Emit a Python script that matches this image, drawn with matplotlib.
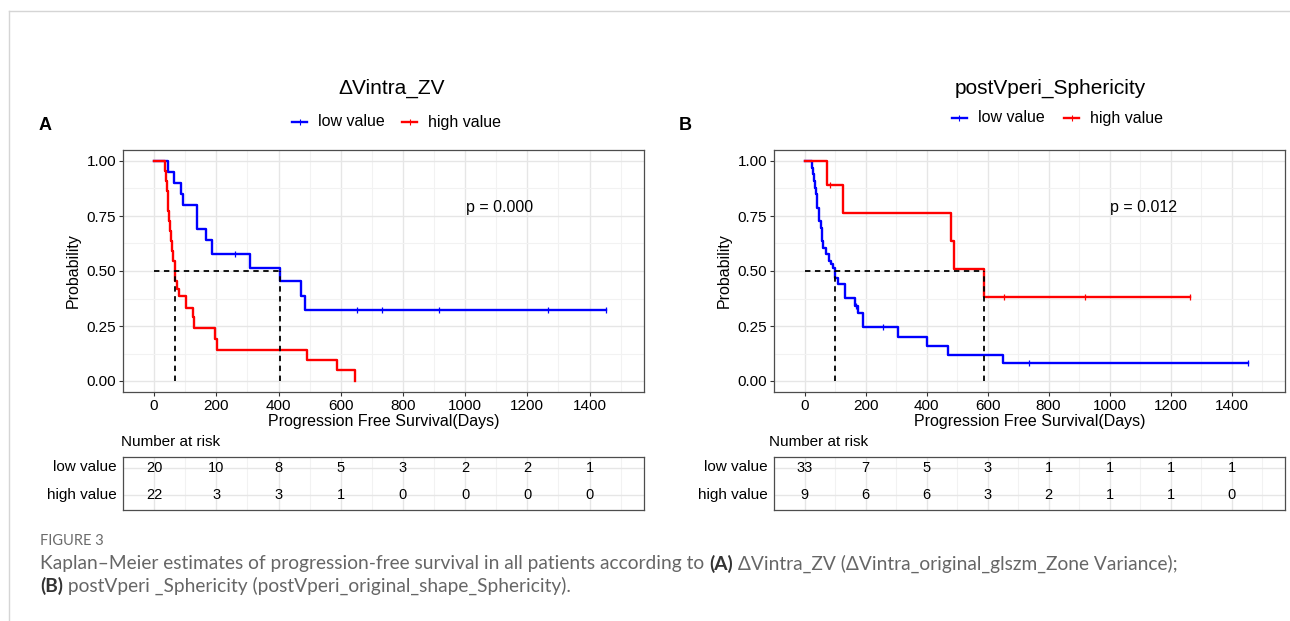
import numpy as np
import matplotlib.pyplot as plt
from matplotlib.lines import Line2D

plt.rcParams['font.family'] = ['Liberation Sans', 'DejaVu Sans']

W, H = 1290, 621

# ---- panel A: ΔVintra_ZV ----
a_low_t = [0, 44, 65, 86, 94, 137, 168, 186, 309, 404, 473, 485, 1454]
a_low_s = [1.0, 0.95, 0.90, 0.85, 0.80, 0.69, 0.64, 0.579, 0.514, 0.454, 0.386, 0.323, 0.323]
a_low_cens = [260, 651, 733, 917, 1267, 1454]
a_high_t = [0, 34, 38, 43, 46, 49, 52, 55, 58, 61, 66, 68, 74, 79, 103, 124, 129, 197, 202, 491, 587, 647]
a_high_s = [1.0, 0.955, 0.909, 0.864, 0.773, 0.727, 0.682, 0.636, 0.591, 0.545, 0.50, 0.455, 0.42,
            0.386, 0.334, 0.292, 0.242, 0.191, 0.143, 0.095, 0.048, 0.0]
a_high_cens = []
a_medians = [66, 404]
a_pval = "p = 0.000"
a_risk_low = [20, 10, 8, 5, 3, 2, 2, 1]
a_risk_high = [22, 3, 3, 1, 0, 0, 0, 0]

# ---- panel B: postVperi_Sphericity ----
b_low_t = [0, 25, 28, 31, 34, 37, 40, 42, 46, 49, 53, 56, 58, 61, 70, 79, 86, 92, 100, 111, 133,
           165, 176, 192, 307, 402, 470, 650, 1454]
b_low_s = [1.0, 0.970, 0.939, 0.909, 0.879, 0.848, 0.818, 0.788, 0.758, 0.727, 0.697, 0.667, 0.636,
           0.606, 0.576, 0.545, 0.530, 0.515, 0.470, 0.440, 0.376, 0.341, 0.311, 0.244, 0.200,
           0.161, 0.120, 0.081, 0.081]
b_low_cens = [168, 257, 737, 1454]
b_high_t = [0, 73, 127, 481, 491, 589, 1265]
b_high_s = [1.0, 0.889, 0.762, 0.635, 0.508, 0.381, 0.381]
b_high_cens = [84, 654, 920, 1265]
b_medians = [100, 589]
b_pval = "p = 0.012"
b_risk_low = [33, 7, 5, 3, 1, 1, 1, 1]
b_risk_high = [9, 6, 6, 3, 2, 1, 1, 0]

risk_times = [0, 200, 400, 600, 800, 1000, 1200, 1400]
x_ticks = [0, 200, 400, 600, 800, 1000, 1200, 1400]
y_ticks = [0.0, 0.25, 0.5, 0.75, 1.0]
y_ticklabels = ['0.00', '0.25', '0.50', '0.75', '1.00']

BLUE = '#0000FF'
RED = '#FF0000'
XLIM = (-75, 1575)


def box(l, t, r, b):
    return [l / W, 1 - b / H, (r - l) / W, (b - t) / H]


def step_at(ts, ss, x):
    i = np.searchsorted(ts, x, side='right') - 1
    return ss[i]


def style_axes(ax):
    for sp in ax.spines.values():
        sp.set_color('#4d4d4d')
        sp.set_linewidth(0.9)
    ax.set_facecolor('white')
    ax.grid(True, which='major', color='#e6e6e6', linewidth=1.0)
    ax.grid(True, which='minor', color='#f2f2f2', linewidth=0.8)
    ax.set_axisbelow(True)


def km_panel(fig, rect, curves, medians, pval):
    ax = fig.add_axes(rect)
    style_axes(ax)
    for ts, ss, cens, col in curves:
        ax.step(ts, ss, where='post', color=col, linewidth=1.7, zorder=3)
        cy = [step_at(ts, ss, c) for c in cens]
        ax.plot(cens, cy, linestyle='none', marker='|', markersize=5, markeredgewidth=0.9,
                color=col, zorder=4)
    ax.plot([0, max(medians)], [0.5, 0.5], color='black', linestyle=(0, (3, 2.5)),
            linewidth=1.3, zorder=5)
    for m in medians:
        ax.plot([m, m], [0, 0.5], color='black', linestyle=(0, (3, 2.5)), linewidth=1.3, zorder=5)
    ax.text(1110, 0.787, pval, fontsize=11.5, ha='center', va='center', color='black')
    ax.set_xlim(*XLIM)
    ax.set_ylim(-0.05, 1.05)
    ax.set_xticks(x_ticks)
    ax.set_xticks(np.arange(-100, 1600, 100), minor=True)
    ax.set_yticks(y_ticks)
    ax.set_yticklabels(y_ticklabels)
    ax.set_yticks([0.125, 0.375, 0.625, 0.875], minor=True)
    ax.tick_params(which='major', length=3, width=0.8, color='#333333', labelsize=11,
                   labelcolor='black', pad=2)
    ax.tick_params(which='minor', length=0)
    ax.set_xlabel('Progression Free Survival(Days)', fontsize=11.5, labelpad=1)
    ax.set_ylabel('Probability', fontsize=11.5, labelpad=4)
    return ax


def risk_table(fig, rect, low, high, label_x_px, title_x_px, title_y_px):
    ax = fig.add_axes(rect)
    style_axes(ax)
    ax.set_xlim(*XLIM)
    ax.set_ylim(0.45, 2.4)
    ax.set_xticks(x_ticks)
    ax.set_xticks(np.arange(-100, 1600, 100), minor=True)
    ax.set_yticks([1, 2])
    ax.tick_params(which='both', length=0, labelbottom=False, labelleft=False)
    for t, n in zip(risk_times, low):
        ax.text(t, 2, str(n), ha='center', va='center', fontsize=10.5)
    for t, n in zip(risk_times, high):
        ax.text(t, 1, str(n), ha='center', va='center', fontsize=10.5)
    fig.text(label_x_px / W, 1 - 467 / H, 'low value', ha='right', va='center', fontsize=11)
    fig.text(label_x_px / W, 1 - 495 / H, 'high value', ha='right', va='center', fontsize=11)
    fig.text(title_x_px / W, 1 - title_y_px / H, 'Number at risk', ha='left', va='center',
             fontsize=11)
    return ax


def legend(fig, x_blue, x_red, y_px):
    y = 1 - y_px / H
    for x0, col, lab in [(x_blue, BLUE, 'low value'), (x_red, RED, 'high value')]:
        fig.add_artist(Line2D([x0 / W, (x0 + 15) / W], [y, y], color=col, linewidth=1.7))
        fig.add_artist(Line2D([(x0 + 7.5) / W], [y], color=col, marker='|', markersize=4,
                              markeredgewidth=0.8))
        fig.text((x0 + 26) / W, y, lab, ha='left', va='center', fontsize=11.5)


fig = plt.figure(figsize=(W / 100, H / 100), dpi=100)
fig.patch.set_facecolor('white')

# outer frame lines
fig.add_artist(Line2D([9 / W, 1], [1 - 11 / H, 1 - 11 / H], color='#d5d5d5', linewidth=1.0))
fig.add_artist(Line2D([9 / W, 9 / W], [0, 1 - 11 / H], color='#d5d5d5', linewidth=1.0))

km_panel(fig, box(123, 150, 644, 392),
         [(a_low_t, a_low_s, a_low_cens, BLUE), (a_high_t, a_high_s, a_high_cens, RED)],
         a_medians, a_pval)
km_panel(fig, box(774, 150, 1285, 392),
         [(b_low_t, b_low_s, b_low_cens, BLUE), (b_high_t, b_high_s, b_high_cens, RED)],
         b_medians, b_pval)

risk_table(fig, box(123, 457, 644, 510), a_risk_low, a_risk_high, 117, 121, 442)
risk_table(fig, box(774, 457, 1285, 510), b_risk_low, b_risk_high, 768, 769, 442)

fig.text(392 / W, 1 - 88 / H, 'ΔVintra_ZV', ha='center', va='center', fontsize=15)
fig.text(1050 / W, 1 - 88 / H, 'postVperi_Sphericity', ha='center', va='center', fontsize=15)
legend(fig, 292, 402, 122)
legend(fig, 952, 1064, 118)
fig.text(45 / W, 1 - 126 / H, 'A', ha='center', va='center', fontsize=13, fontweight='bold')
fig.text(685 / W, 1 - 126 / H, 'B', ha='center', va='center', fontsize=13, fontweight='bold')

# caption
cap_font = ['Lato', 'DejaVu Sans']
fig.text(40 / W, 1 - 541 / H, 'FIGURE 3', ha='left', va='center', fontsize=10.5,
         color='#6b6b6b', family=cap_font)
renderer = fig.canvas.get_renderer()


def caption_line(pieces, x_px, y_px):
    x = x_px / W
    for txt, bold in pieces:
        t = fig.text(x, 1 - y_px / H, txt, ha='left', va='center', fontsize=13.75,
                     family=cap_font, fontweight='bold' if bold else 'normal',
                     color='#333333' if bold else '#666666')
        bb = t.get_window_extent(renderer=renderer)
        x = bb.x1 / W


caption_line([('Kaplan–Meier estimates of progression-free survival in all patients according to ', False),
              ('(A)', True),
              (' ΔVintra_ZV (ΔVintra_original_glszm_Zone Variance);', False)], 40, 564)
caption_line([('(B)', True),
              (' postVperi _Sphericity (postVperi_original_shape_Sphericity).', False)], 40, 586)

fig.savefig('out.png', dpi=100, facecolor='white')
